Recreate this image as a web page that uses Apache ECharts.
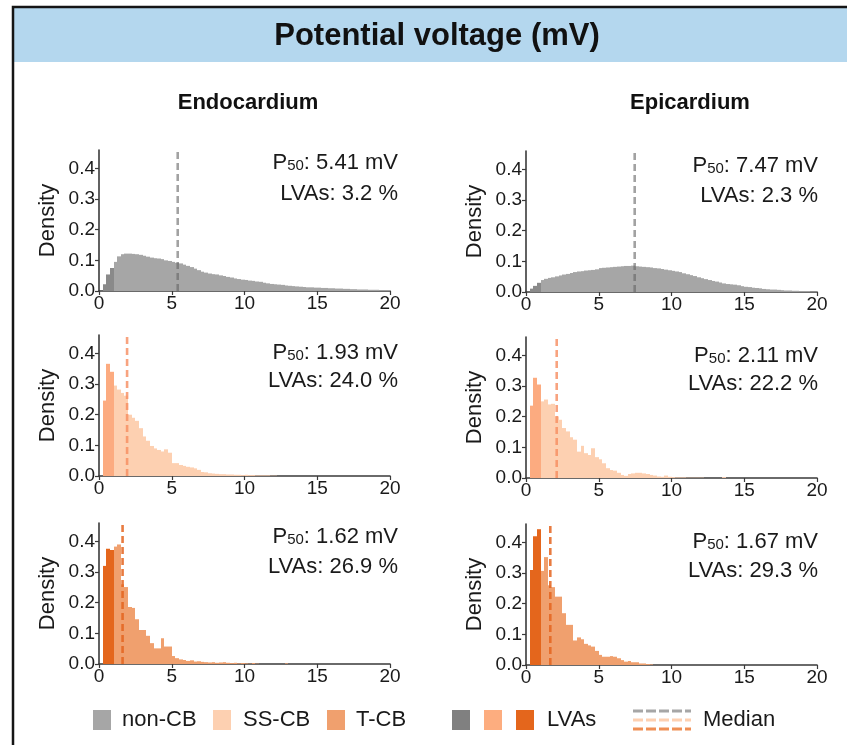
<!DOCTYPE html>
<html>
<head>
<meta charset="utf-8">
<title>Potential voltage (mV)</title>
<script src="https://cdn.jsdelivr.net/npm/echarts@6/dist/echarts.min.js"></script>
<style>
  html, body { margin: 0; padding: 0; background: #fff; }
  #chart { width: 847px; height: 745px; }
</style>
</head>
<body>
<div id="chart"></div>
<script>
// histogram bins are 0.25 mV wide, first bin starts at 0 mV
const binWidth = 0.25;
const lvaCutoff = 1.0;
const xTicks = [0, 5, 10, 15, 20];
const yTicks = [0, 0.1, 0.2, 0.3, 0.4];
const yMax = 0.46;

const endoNonCB = [
  0, 0.022, 0.054, 0.075, 0.095, 0.113, 0.120, 0.122, 0.122, 0.121,
  0.120, 0.118, 0.115, 0.112, 0.109, 0.107, 0.106, 0.104, 0.100, 0.098,
  0.095, 0.092, 0.090, 0.086, 0.082, 0.078, 0.073, 0.068, 0.063, 0.060,
  0.057, 0.055, 0.054, 0.051, 0.049, 0.046, 0.044, 0.041, 0.039, 0.037,
  0.036, 0.034, 0.033, 0.031, 0.030, 0.027, 0.025, 0.023, 0.022, 0.021,
  0.020, 0.018, 0.017, 0.016, 0.015, 0.014, 0.013, 0.012, 0.012, 0.011,
  0.011, 0.010, 0.010, 0.009, 0.009, 0.008, 0.008, 0.007, 0.007, 0.006,
  0.006, 0.005, 0.005, 0.005, 0.004, 0.004, 0.004, 0.003, 0.003, 0.003
];
const epiNonCB = [
  0, 0.011, 0.020, 0.030, 0.039, 0.043, 0.046, 0.048, 0.051, 0.054,
  0.057, 0.059, 0.062, 0.065, 0.067, 0.068, 0.070, 0.071, 0.072, 0.074,
  0.078, 0.079, 0.080, 0.081, 0.082, 0.083, 0.084, 0.085, 0.085, 0.086,
  0.084, 0.083, 0.082, 0.081, 0.080, 0.078, 0.077, 0.075, 0.073, 0.071,
  0.069, 0.067, 0.065, 0.061, 0.058, 0.055, 0.052, 0.048, 0.045, 0.042,
  0.039, 0.036, 0.034, 0.031, 0.028, 0.026, 0.025, 0.024, 0.022, 0.019,
  0.017, 0.016, 0.014, 0.013, 0.012, 0.010, 0.009, 0.008, 0.008, 0.007,
  0.006, 0.005, 0.005, 0.004, 0.004, 0.003, 0.003, 0.003, 0.002, 0.002
];
const endoSSCB = [
  0, 0.246, 0.366, 0.340, 0.295, 0.282, 0.271, 0.262, 0.200, 0.190,
  0.180, 0.156, 0.129, 0.115, 0.098, 0.090, 0.085, 0.080, 0.087, 0.076,
  0.042, 0.042, 0.036, 0.033, 0.030, 0.028, 0.025, 0.020, 0.013, 0.012,
  0.009, 0.008, 0.007, 0.006, 0.006, 0.005, 0.005, 0.004, 0.004, 0.003,
  0.004, 0.003, 0.003, 0.002, 0.002, 0.002, 0.002, 0.001, 0.001
];
const epiSSCB = [
  0, 0.236, 0.327, 0.305, 0.250, 0.256, 0.240, 0.242, 0.201, 0.190,
  0.163, 0.152, 0.133, 0.125, 0.086, 0.105, 0.081, 0.075, 0.097, 0.068,
  0.061, 0.048, 0.032, 0.026, 0.024, 0.017, 0.010, 0.007, 0.013, 0.015,
  0.017, 0.017, 0.015, 0.013, 0.010, 0.008, 0.005, 0.004, 0.008, 0.004,
  0.003, 0.002, 0.002, 0.002, 0.001, 0.001, 0.001, 0.001, 0.001, 0,
  0, 0, 0, 0, 0.003
];
const endoTCB = [
  0, 0.320, 0.376, 0.372, 0.383, 0.390, 0.260, 0.251, 0.186, 0.183,
  0.146, 0.111, 0.111, 0.092, 0.068, 0.051, 0.051, 0.084, 0.057, 0.057,
  0.026, 0.019, 0.015, 0.013, 0.010, 0.012, 0.008, 0.009, 0.007, 0.006,
  0.005, 0.006, 0.004, 0.005, 0.006, 0.004, 0.003, 0.004, 0.002, 0.003,
  0.002, 0.001, 0.003, 0.001, 0, 0, 0, 0, 0, 0,
  0, 0.002
];
const epiTCB = [
  0, 0.310, 0.420, 0.443, 0.307, 0.352, 0.260, 0.254, 0.223, 0.223,
  0.169, 0.131, 0.131, 0.080, 0.090, 0.084, 0.069, 0.064, 0.060, 0.046,
  0.033, 0.027, 0.027, 0.029, 0.027, 0.022, 0.016, 0.011, 0.013, 0.009,
  0.009, 0.005, 0.005, 0.003, 0.002
];

const medians = [5.41, 7.47, 1.93, 2.11, 1.62, 1.67];
const lvaPercents = [3.2, 2.3, 24.0, 22.2, 26.9, 29.3];
const histograms = [endoNonCB, epiNonCB, endoSSCB, epiSSCB, endoTCB, epiTCB];
const groups = ["nonCB", "nonCB", "ssCB", "ssCB", "tCB", "tCB"];

const FONT = "'Liberation Sans', Arial, sans-serif";

const palette = {
  nonCB: { base: "#a6a6a6", lva: "#8a8a8a", median: "rgba(100,100,100,0.6)" },
  ssCB: { base: "#fdd0b1", lva: "#fcab80", median: "rgba(246,140,95,0.8)" },
  tCB: { base: "#f0a06e", lva: "#e4661c", median: "rgba(228,100,30,0.85)" }
};

// grid boxes and annotation anchors
const layout = [
  { left: 99, top: 150, textY: [163, 194] },
  { left: 526, top: 151, textY: [166, 196] },
  { left: 99, top: 335, textY: [353, 381] },
  { left: 526, top: 337, textY: [356, 384] },
  { left: 99, top: 523, textY: [537, 567] },
  { left: 526, top: 524, textY: [542, 571] }
];
const gridW = 291;
const gridH = 141;

const chart = echarts.init(document.getElementById("chart"));

const grids = [];
const xAxes = [];
const yAxes = [];
const series = [];
const graphics = [];

const axisColor = "#3a3a3a";

histograms.forEach((hist, i) => {
  const lay = layout[i];
  const col = palette[groups[i]];
  grids.push({ left: lay.left, top: lay.top, width: gridW, height: gridH });
  xAxes.push({
    gridIndex: i,
    type: "value",
    min: 0,
    max: 20,
    interval: 5,
    axisLine: { show: true, onZero: false, lineStyle: { color: axisColor, width: 1.6 } },
    axisTick: { show: true, length: 4, lineStyle: { color: axisColor, width: 1.2 } },
    axisLabel: { fontSize: 19, color: "#1a1a1a", fontFamily: FONT, margin: 3, customValues: xTicks },
    splitLine: { show: false }
  });
  yAxes.push({
    gridIndex: i,
    type: "value",
    min: 0,
    max: yMax,
    name: "Density",
    nameLocation: "middle",
    nameGap: 40,
    nameTextStyle: { fontSize: 22, color: "#1a1a1a", fontFamily: FONT },
    axisLine: { show: true, lineStyle: { color: axisColor, width: 1.6 } },
    axisTick: { show: true, length: 4, customValues: yTicks, lineStyle: { color: axisColor, width: 1.2 } },
    axisLabel: {
      fontSize: 19,
      color: "#1a1a1a",
      fontFamily: FONT,
      margin: 4,
      customValues: yTicks,
      formatter: (v) => v.toFixed(1)
    },
    splitLine: { show: false }
  });

  series.push({
    type: "custom",
    xAxisIndex: i,
    yAxisIndex: i,
    encode: { x: 0, y: 1 },
    data: hist.map((v, k) => [k * binWidth, v]),
    renderItem: (params, api) => {
      const x0 = api.value(0);
      const v = api.value(1);
      if (!v) return null;
      const p0 = api.coord([x0, v]);
      const p1 = api.coord([x0 + binWidth, 0]);
      // snap bin edges to whole pixels so neighbouring bars meet without seams
      const left = Math.round(p0[0]);
      const right = Math.round(p1[0]);
      return {
        type: "rect",
        shape: { x: left, y: p0[1], width: right - left, height: p1[1] - p0[1] },
        style: { fill: x0 + 1e-6 < lvaCutoff ? col.lva : col.base }
      };
    },
    z: 2
  });

  series.push({
    type: "line",
    xAxisIndex: i,
    yAxisIndex: i,
    data: [[medians[i], 0], [medians[i], yMax]],
    symbol: "none",
    silent: true,
    lineStyle: { color: col.median, width: 2.6, type: [7, 4] },
    z: 3
  });

  const right = lay.left + gridW + (i % 2 === 0 ? 8 : 1);
  graphics.push({
    type: "text",
    x: right,
    y: lay.textY[0],
    style: {
      text: "{p|P}{s|50}{p|: " + medians[i].toFixed(2) + " mV}",
      align: "right",
      verticalAlign: "middle",
      rich: {
        p: { fontSize: 22, fontFamily: FONT, fill: "#1a1a1a" },
        s: { fontSize: 15, fontFamily: FONT, fill: "#1a1a1a", padding: [5, 0, 0, 0] }
      }
    }
  });
  graphics.push({
    type: "text",
    x: right,
    y: lay.textY[1],
    style: {
      text: "LVAs: " + lvaPercents[i].toFixed(1) + " %",
      align: "right",
      verticalAlign: "middle",
      fontSize: 22,
      fontFamily: FONT,
      fill: "#1a1a1a"
    }
  });
});

// header, frame and column titles
graphics.unshift(
  { type: "rect", shape: { x: 13, y: 7, width: 840, height: 55 }, style: { fill: "#b4d7ee" }, z: -1 },
  { type: "rect", shape: { x: 13, y: 7, width: 860, height: 760 }, style: { fill: null, stroke: "#151515", lineWidth: 2.5 } },
  { type: "text", x: 437, y: 36, style: { text: "Potential voltage (mV)", align: "center", verticalAlign: "middle", fontSize: 31, fontWeight: "bold", fontFamily: FONT, fill: "#111" } },
  { type: "text", x: 248, y: 103, style: { text: "Endocardium", align: "center", verticalAlign: "middle", fontSize: 22, fontWeight: "bold", fontFamily: FONT, fill: "#111" } },
  { type: "text", x: 690, y: 103, style: { text: "Epicardium", align: "center", verticalAlign: "middle", fontSize: 22, fontWeight: "bold", fontFamily: FONT, fill: "#111" } }
);

// legend row
const legendY = 720;
const legendText = (x, t) => ({
  type: "text", x: x, y: legendY,
  style: { text: t, align: "left", verticalAlign: "middle", fontSize: 22, fontFamily: FONT, fill: "#1a1a1a" }
});
const legendBox = (x, color) => ({
  type: "rect", shape: { x: x, y: legendY - 10, width: 18, height: 20 }, style: { fill: color }
});
graphics.push(
  legendBox(93, palette.nonCB.base), legendText(122, "non-CB"),
  legendBox(213, palette.ssCB.base), legendText(243, "SS-CB"),
  legendBox(327, palette.tCB.base), legendText(356, "T-CB"),
  legendBox(452, "#808080"), legendBox(484, "#fdad7f"), legendBox(516, palette.tCB.lva),
  legendText(547, "LVAs"),
  { type: "line", shape: { x1: 633, y1: 711, x2: 691, y2: 711 }, style: { stroke: "#a6a6a6", lineWidth: 3, lineDash: [10, 3] } },
  { type: "line", shape: { x1: 633, y1: 720, x2: 691, y2: 720 }, style: { stroke: "#fdd0b1", lineWidth: 3, lineDash: [10, 3] } },
  { type: "line", shape: { x1: 633, y1: 729, x2: 691, y2: 729 }, style: { stroke: "#ef8f55", lineWidth: 3, lineDash: [10, 3] } },
  legendText(703, "Median")
);

chart.setOption({
  animation: false,
  backgroundColor: "#fff",
  grid: grids,
  xAxis: xAxes,
  yAxis: yAxes,
  series: series,
  graphic: graphics
});
</script>
</body>
</html>
